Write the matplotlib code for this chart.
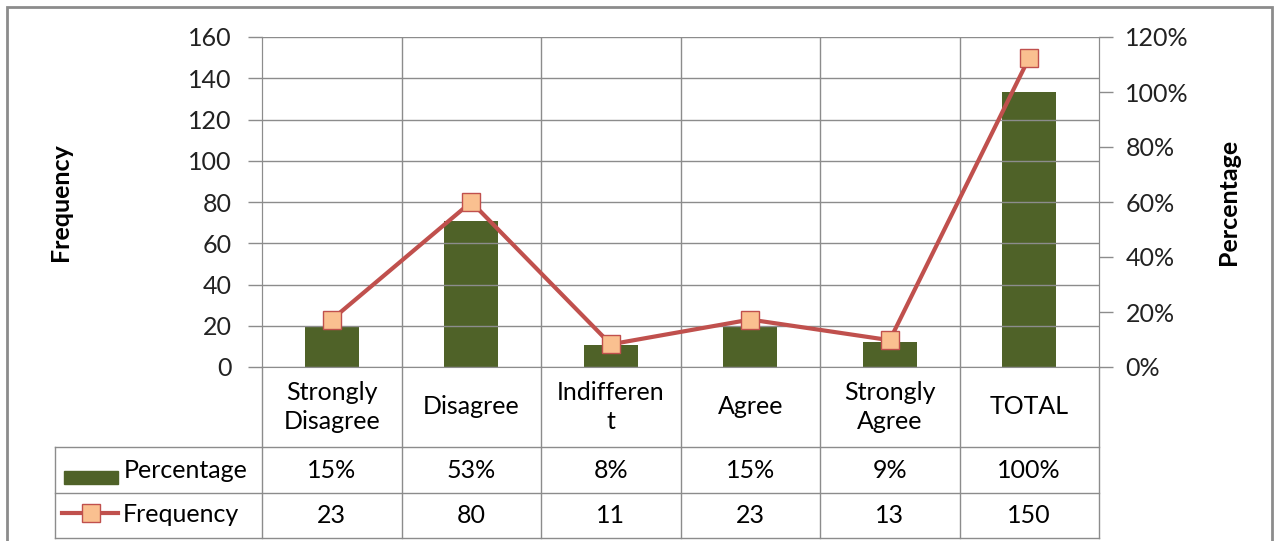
import matplotlib.pyplot as plt
import matplotlib.transforms as mtransforms
from matplotlib.patches import Rectangle
from matplotlib.lines import Line2D

# data
categories = ["Strongly\nDisagree", "Disagree", "Indifferen\nt", "Agree", "Strongly\nAgree", "TOTAL"]
frequency = [23, 80, 11, 23, 13, 150]
percentage = [15, 53, 8, 15, 9, 100]
pct_labels = ["15%", "53%", "8%", "15%", "9%", "100%"]
freq_labels = ["23", "80", "11", "23", "13", "150"]

W, H = 1281, 541
plt.rcParams['font.family'] = ['Lato', 'DejaVu Sans']
fig = plt.figure(figsize=(W / 100, H / 100), dpi=100)

bar_color = "#4F6228"
line_color = "#C0504D"
marker_face = "#FAC090"
grid_color = "#8C8C8C"
fs = 18

def fx(px):
    return px / W

def fy(py):
    return 1 - py / H

left, right, top, bottom = 262, 1099, 37, 367
ax = fig.add_axes([fx(left), fy(bottom), fx(right - left), (bottom - top) / H])
ax2 = ax.twinx()

x = list(range(len(categories)))

# percentage bars on the right axis
ax2.bar(x, percentage, width=0.39, color=bar_color, zorder=2)
ax2.set_ylim(0, 120)
ax2.set_yticks(range(0, 121, 20))
ax2.set_yticklabels([f"{v}%" for v in range(0, 121, 20)])

# frequency line on the left axis
ax.set_zorder(ax2.get_zorder() + 1)
ax.patch.set_visible(False)
ax.plot(x, frequency, color=line_color, lw=3, marker="s", ms=13.5,
        mfc=marker_face, mec=line_color, mew=1, zorder=3, clip_on=False)
ax.set_ylim(0, 160)
ax.set_yticks(range(0, 161, 20))
ax.set_xlim(-0.5, len(categories) - 0.5)
ax.set_xticks([])
ax.yaxis.grid(True, color=grid_color, lw=1)
for b in range(1, len(categories)):
    ax.axvline(b - 0.5, color=grid_color, lw=1, zorder=0)

for a in (ax, ax2):
    for s in a.spines.values():
        s.set_color(grid_color)
    a.spines["top"].set_visible(False)
    a.tick_params(axis="y", length=10, width=1, color=grid_color, labelsize=fs, labelcolor="#222222")
ax.tick_params(axis="y", pad=12)
ax2.tick_params(axis="y", pad=9)
ax2.spines["bottom"].set_visible(False)

ax.set_ylabel("Frequency", fontsize=18, fontweight="bold", labelpad=0)
ax.yaxis.set_label_coords((72 - left) / (right - left), 0.5)
ax2.set_ylabel("Percentage", fontsize=18, fontweight="bold")
ax2.yaxis.set_label_coords((1217 - left) / (right - left), 0.5)

# data table below the plot
trans = mtransforms.blended_transform_factory(ax.transData, fig.transFigure)
rows = [367, 447, 493, 538]
tl = dict(color=grid_color, lw=1, transform=fig.transFigure)
fig.add_artist(Line2D([fx(55), fx(right)], [fy(rows[1])] * 2, **tl))
fig.add_artist(Line2D([fx(55), fx(right)], [fy(rows[2])] * 2, **tl))
fig.add_artist(Line2D([fx(55), fx(right)], [fy(rows[3])] * 2, **tl))
fig.add_artist(Line2D([fx(55), fx(55)], [fy(rows[1]), fy(rows[3])], **tl))
for b in range(len(categories) + 1):
    fig.add_artist(Line2D([b - 0.5, b - 0.5], [fy(rows[0]), fy(rows[3])],
                          color=grid_color, lw=1, transform=trans))

for i in x:
    fig.text(i, fy((rows[0] + rows[1]) / 2), categories[i], transform=trans,
             ha="center", va="center", fontsize=fs, linespacing=1.35)
    fig.text(i, fy((rows[1] + rows[2]) / 2), pct_labels[i], transform=trans,
             ha="center", va="center", fontsize=fs)
    fig.text(i, fy((rows[2] + rows[3]) / 2), freq_labels[i], transform=trans,
             ha="center", va="center", fontsize=fs)

# legend keys inside the table
fig.add_artist(Rectangle((fx(64), fy(484)), fx(54), 13 / H, color=bar_color,
                         transform=fig.transFigure))
fig.text(fx(124), fy(470), "Percentage", ha="left", va="center", fontsize=fs)
fig.add_artist(Line2D([fx(62), fx(118)], [fy(513)] * 2, color=line_color, lw=3,
                      transform=fig.transFigure))
fig.add_artist(Line2D([fx(91)], [fy(513)], marker="s", ms=13.5, mfc=marker_face,
                      mec=line_color, mew=1, transform=fig.transFigure))
fig.text(fx(123), fy(514), "Frequency", ha="left", va="center", fontsize=fs)

# outer frame
fig.add_artist(Rectangle((fx(7), -0.05), fx(1265), fy(7) + 0.05, fill=False,
                         ec="#8C8C8C", lw=2, transform=fig.transFigure))

fig.savefig("out.png", dpi=100)
